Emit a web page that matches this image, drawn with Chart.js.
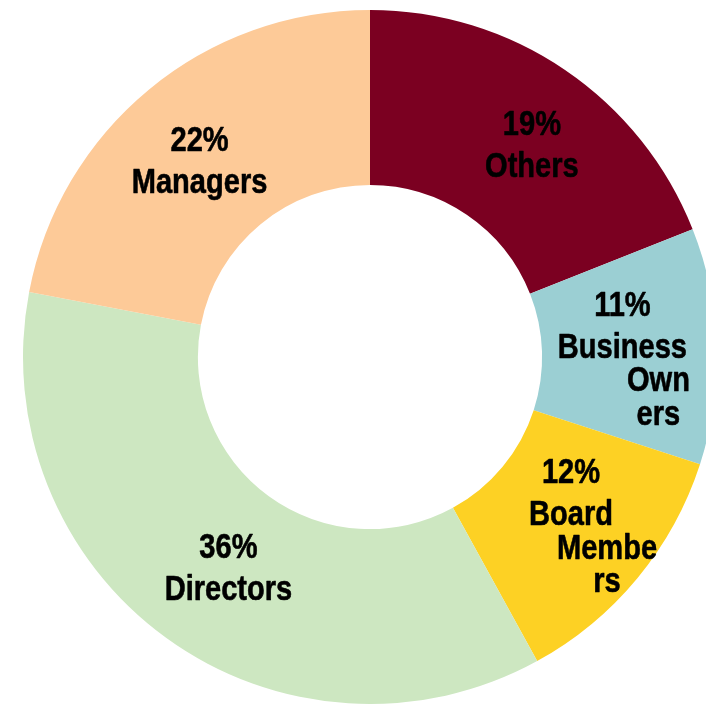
<!DOCTYPE html>
<html>
<head>
<meta charset="utf-8">
<script src="https://cdn.jsdelivr.net/npm/chart.js@4/dist/chart.umd.min.js"></script>
<style>
  html, body { margin: 0; padding: 0; background: #ffffff; overflow: hidden; }
  #wrap { position: absolute; left: 0; top: 0; width: 740px; height: 714px; }
</style>
</head>
<body>
<div id="wrap"><canvas id="chart" width="740" height="714"></canvas></div>
<script>
// Respondent roles, clockwise from 12 o'clock
const categories = ['Others', 'Business Owners', 'Board Members', 'Directors', 'Managers'];
const shares = [19, 11, 12, 36, 22];
// Label text as it wraps inside each slice
const labelLines = [
  ['Others'],
  ['Business', 'Own', 'ers'],
  ['Board', 'Membe', 'rs'],
  ['Directors'],
  ['Managers']
];

const sliceColors = ['#7b0021', '#9bcfd3', '#fdd124', '#cde7c1', '#fdca98'];
// Small placement tweaks for each label block (px)
const labelNudge = [[16, 1], [-7, 9], [1, 3], [11, 0], [-5, 2]];

const FONT = 'bold 35px "Liberation Sans", Arial, sans-serif';
const NARROW = 0.83;      // horizontal squeeze for a narrow face
const CAP = 25;           // cap height of the label font
const FIRST_GAP = 42;     // percent line -> first name line
const NEXT_GAP = 33.5;    // between wrapped name lines
const WRAP_INDENT = 36;   // shift of broken word pieces

const sliceLabels = {
  id: 'sliceLabels',
  afterDatasetsDraw(chart) {
    const ctx = chart.ctx;
    const meta = chart.getDatasetMeta(0);
    ctx.save();
    ctx.font = FONT;
    ctx.fillStyle = '#000000';
    ctx.strokeStyle = '#000000';
    ctx.lineWidth = 0.6;
    ctx.lineJoin = 'round';
    ctx.textAlign = 'center';
    ctx.textBaseline = 'alphabetic';
    meta.data.forEach((arc, i) => {
      const c = arc.getCenterPoint();
      const lines = [shares[i] + '%'].concat(labelLines[i]);
      const offs = [0];
      for (let k = 1; k < lines.length; k++) {
        offs.push(offs[k - 1] + (k === 1 ? FIRST_GAP : NEXT_GAP));
      }
      const blockH = CAP + offs[offs.length - 1];
      const cx = c.x + labelNudge[i][0];
      const top = c.y + labelNudge[i][1] - blockH / 2;
      lines.forEach((txt, k) => {
        const x = cx + (k >= 2 ? WRAP_INDENT : 0);
        const y = top + CAP + offs[k];
        ctx.save();
        ctx.translate(x, y);
        ctx.scale(NARROW, 1);
        ctx.fillText(txt, 0, 0);
        ctx.strokeText(txt, 0, 0);
        ctx.restore();
      });
    });
    ctx.restore();
  }
};

new Chart(document.getElementById('chart'), {
  type: 'doughnut',
  data: {
    labels: categories,
    datasets: [{
      data: shares,
      backgroundColor: sliceColors,
      borderWidth: 0,
      hoverOffset: 0
    }]
  },
  options: {
    responsive: false,
    animation: false,
    devicePixelRatio: 1,
    radius: 347,
    cutout: '49.6%',
    layout: { padding: 0 },
    plugins: {
      legend: { display: false },
      tooltip: { enabled: false }
    }
  },
  plugins: [sliceLabels]
});
</script>
</body>
</html>
